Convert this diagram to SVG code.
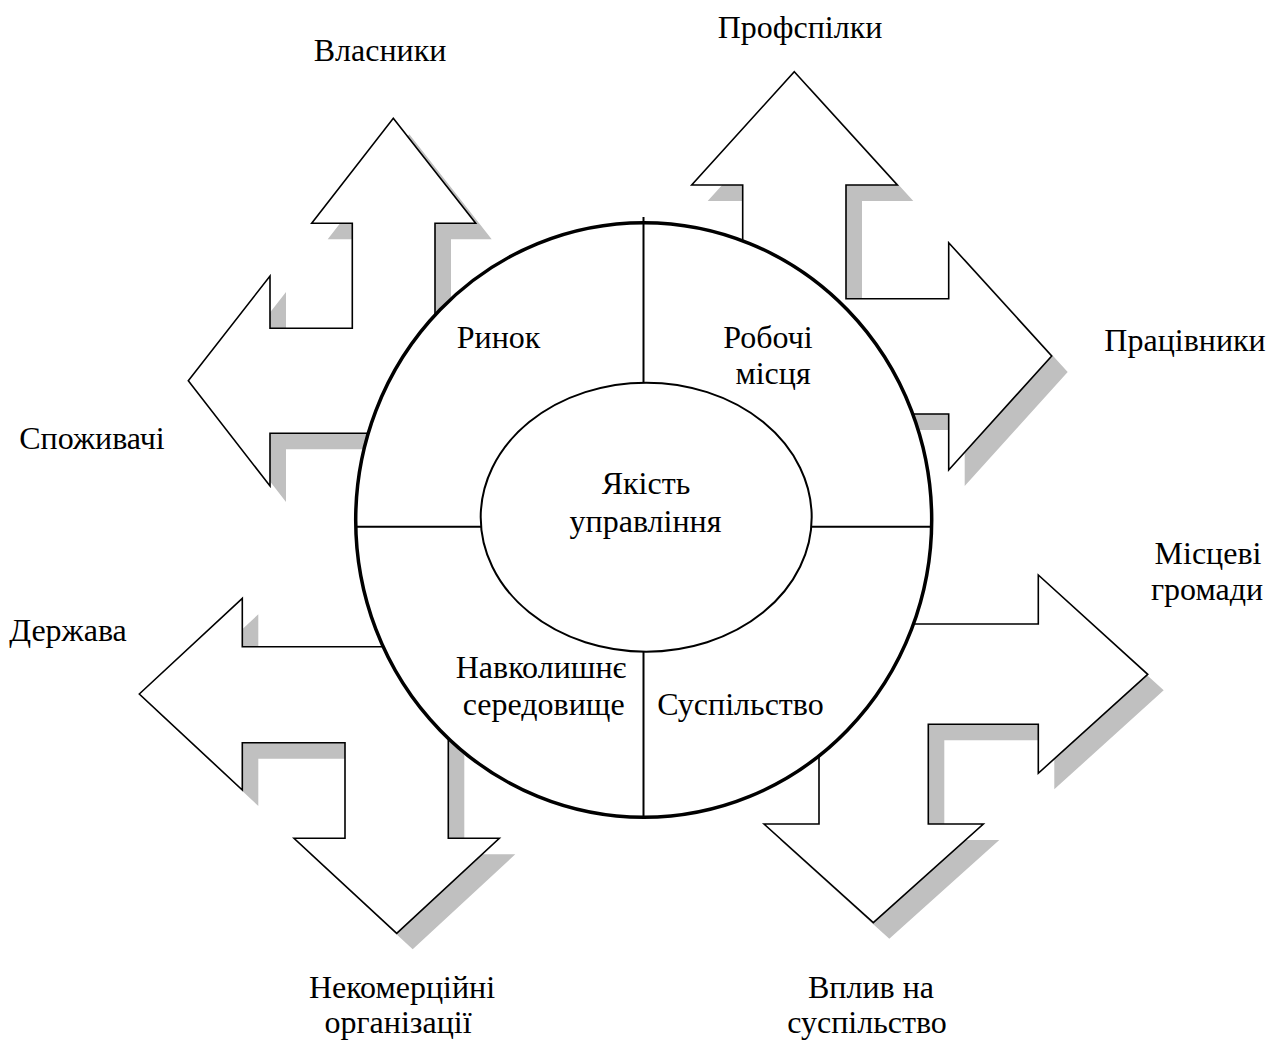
<svg xmlns="http://www.w3.org/2000/svg" width="1269" height="1042" viewBox="0 0 1269 1042">
<style>
.sh{fill:#c0c0c0;stroke:none}
.ar{fill:#ffffff;stroke:#000;stroke-width:1.6;stroke-linejoin:miter}
.t{font-family:"Liberation Serif","Times New Roman",serif;font-size:32px;fill:#000;text-anchor:middle}
.ln{stroke:#000;stroke-width:2;fill:none}
</style>
<rect width="1269" height="1042" fill="#fff"/>
<g id="connectors">
<g id="arrow-tl">
<polygon class="sh" transform="translate(16,16)" points="393.3,118.3 475.7,223.3 435,223.3 435,433.3 270,433.3 270,486 188.3,380.7 270,276 270,328.3 352.3,328.3 352.3,223.3 311.7,223.3"/>
<polygon class="ar" points="393.3,118.3 475.7,223.3 435,223.3 435,433.3 270,433.3 270,486 188.3,380.7 270,276 270,328.3 352.3,328.3 352.3,223.3 311.7,223.3"/>
</g>
<g id="arrow-tr">
<polygon class="sh" transform="translate(16,16)" points="794.3,71.7 897.3,185 846,185 846,298.7 948.7,298.7 948.7,242.7 1051.7,356 948.7,470 948.7,414 742.7,414 742.7,185 691.7,185"/>
<polygon class="ar" points="794.3,71.7 897.3,185 846,185 846,298.7 948.7,298.7 948.7,242.7 1051.7,356 948.7,470 948.7,414 742.7,414 742.7,185 691.7,185"/>
</g>
<g id="arrow-bl">
<polygon class="sh" transform="translate(16,16)" points="139.3,694 242.3,598.3 242.3,646.7 448.3,646.7 448.3,838.3 499.3,838.3 396.7,933.3 294,838.3 345,838.3 345,742.7 242.3,742.7 242.3,790"/>
<polygon class="ar" points="139.3,694 242.3,598.3 242.3,646.7 448.3,646.7 448.3,838.3 499.3,838.3 396.7,933.3 294,838.3 345,838.3 345,742.7 242.3,742.7 242.3,790"/>
</g>
<g id="arrow-br">
<polygon class="sh" transform="translate(16,16)" points="1147.7,674.3 1038.3,773.3 1038.3,724.3 928.3,724.3 928.3,824 983.3,824 873.3,922.7 764,824 819,824 819,624 1038.3,624 1038.3,575"/>
<polygon class="ar" points="1147.7,674.3 1038.3,773.3 1038.3,724.3 928.3,724.3 928.3,824 983.3,824 873.3,922.7 764,824 819,824 819,624 1038.3,624 1038.3,575"/>
</g>
</g>
<g id="outer-circle">
<ellipse cx="643.7" cy="520" rx="288" ry="297.3" fill="#fff" stroke="#000" stroke-width="3.5"/>
<line class="ln" x1="643.5" y1="217" x2="643.5" y2="383"/>
<line class="ln" x1="643.5" y1="652" x2="643.5" y2="817"/>
<line class="ln" x1="356" y1="526.7" x2="481" y2="526.7"/>
<line class="ln" x1="811" y1="526.7" x2="932" y2="526.7"/>
</g>
<g id="inner-ellipse">
<ellipse cx="646.2" cy="517.2" rx="165.5" ry="134.5" fill="#fff" stroke="#000" stroke-width="2"/>
<text class="t" x="646" y="494">Якість</text>
<text class="t" x="645.5" y="531.7">управління</text>
</g>
<g id="sector-market"><text class="t" x="498.5" y="348.3">Ринок</text></g>
<g id="sector-jobs"><text class="t" x="768" y="348.3">Робочі</text><text class="t" x="773" y="384">місця</text></g>
<g id="sector-env"><text class="t" x="541" y="678">Навколишнє</text><text class="t" x="543.7" y="715">середовище</text></g>
<g id="sector-society"><text class="t" x="740.5" y="715">Суспільство</text></g>
<g id="label-owners"><text class="t" x="380" y="61">Власники</text></g>
<g id="label-unions"><text class="t" x="800" y="38">Профспілки</text></g>
<g id="label-workers"><text class="t" x="1185" y="351">Працівники</text></g>
<g id="label-consumers"><text class="t" x="92" y="449">Споживачі</text></g>
<g id="label-communities"><text class="t" x="1208" y="564">Місцеві</text><text class="t" x="1207" y="600">громади</text></g>
<g id="label-state"><text class="t" x="68" y="641">Держава</text></g>
<g id="label-nonprofit"><text class="t" x="402" y="998">Некомерційні</text><text class="t" x="398" y="1033">організації</text></g>
<g id="label-impact"><text class="t" x="871" y="998">Вплив на</text><text class="t" x="867" y="1033">суспільство</text></g>
</svg>
